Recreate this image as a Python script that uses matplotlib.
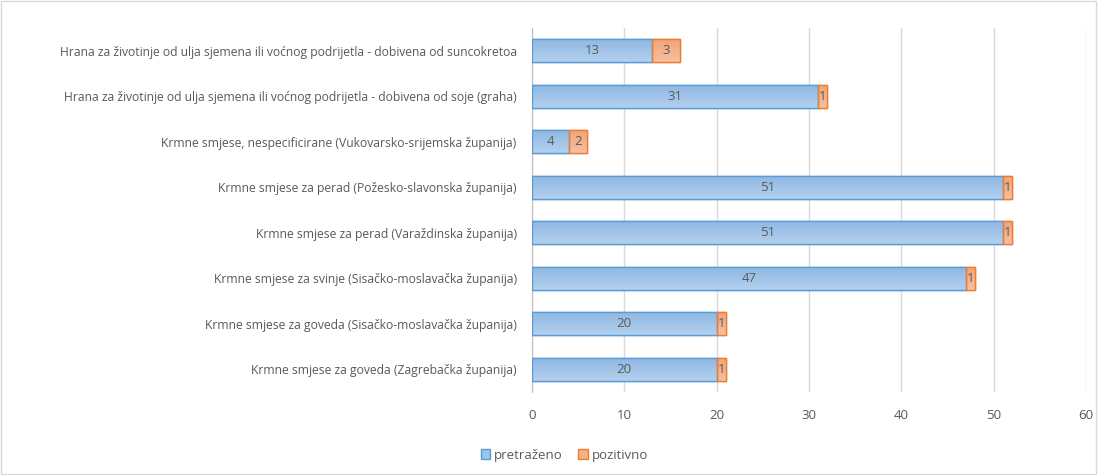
import numpy as np
import matplotlib.pyplot as plt
from matplotlib.patches import Rectangle, Patch

# categories, bottom to top
categories = [
    "Krmne smjese za goveda (Zagrebačka županija)",
    "Krmne smjese za goveda (Sisačko-moslavačka županija)",
    "Krmne smjese za svinje (Sisačko-moslavačka županija)",
    "Krmne smjese za perad (Varaždinska županija)",
    "Krmne smjese za perad (Požesko-slavonska županija)",
    "Krmne smjese, nespecificirane (Vukovarsko-srijemska županija)",
    "Hrana za životinje od ulja sjemena ili voćnog podrijetla - dobivena od soje (graha)",
    "Hrana za životinje od ulja sjemena ili voćnog podrijetla - dobivena od suncokretoa",
]
pretrazeno = [20, 20, 47, 51, 51, 4, 31, 13]
pozitivno = [1, 1, 1, 1, 1, 2, 1, 3]
xticks = [0, 10, 20, 30, 40, 50, 60]

plt.rcParams['font.family'] = ['Open Sans', 'DejaVu Sans']
text_col = '#595959'

fig = plt.figure(figsize=(10.98, 4.75), dpi=100)
ax = fig.add_axes([0.4845, 0.175, 0.989 - 0.4845, 0.766])

y = np.arange(len(categories))
h = 0.5
b1 = ax.barh(y, pretrazeno, height=h, color='#9dc3e6', edgecolor='#5b9bd5', linewidth=1.0, zorder=3)
b2 = ax.barh(y, pozitivno, left=pretrazeno, height=h, color='#f4b183', edgecolor='#ed7d31', linewidth=1.0, zorder=3)

# soft vertical gradient inside each bar
def shade(bars, top, bottom):
    grad = np.linspace(0, 1, 64).reshape(-1, 1)
    c0 = np.array(plt.matplotlib.colors.to_rgb(top))
    c1 = np.array(plt.matplotlib.colors.to_rgb(bottom))
    img = c0 + (c1 - c0) * grad[..., None]
    for p in bars:
        x0, y0 = p.get_x(), p.get_y()
        im = ax.imshow(img, extent=(x0, x0 + p.get_width(), y0 + p.get_height(), y0),
                       aspect='auto', zorder=3.5, interpolation='bilinear')
        im.set_clip_path(p)
        edge = Rectangle((x0, y0), p.get_width(), p.get_height(), fill=False,
                         edgecolor=p.get_edgecolor(), linewidth=1.0, zorder=4)
        ax.add_patch(edge)

shade(b1, '#b4d0ee', '#8fb8e3')
shade(b2, '#f7c0a0', '#f2a478')

for yi, a, b in zip(y, pretrazeno, pozitivno):
    ax.text(a / 2, yi, str(a), ha='center', va='center', fontsize=9.5, color=text_col, zorder=5)
    ax.text(a + b / 2, yi, str(b), ha='center', va='center', fontsize=9.5, color=text_col, zorder=5)

ax.set_xlim(0, 60)
ax.set_ylim(-0.5, len(categories) - 0.5)
ax.set_xticks(xticks)
ax.set_yticks(y)
ax.set_yticklabels(categories, fontsize=8.7, color=text_col)
ax.tick_params(axis='x', colors=text_col, labelsize=9.5, length=0, pad=12)
ax.tick_params(axis='y', length=0, pad=11)
ax.grid(axis='x', color='#d9d9d9', linewidth=1, zorder=0)
for s in ['top', 'right', 'bottom']:
    ax.spines[s].set_visible(False)
ax.spines['left'].set_color('#bfbfbf')
ax.spines['left'].set_zorder(2)

handles = [Patch(facecolor='#9dc3e6', edgecolor='#5b9bd5', label='pretraženo'),
           Patch(facecolor='#f4b183', edgecolor='#ed7d31', label='pozitivno')]
fig.legend(handles=handles, loc='center', bbox_to_anchor=(0.514, 0.042), ncol=2, frameon=False,
           fontsize=9.5, labelcolor=text_col, handlelength=0.7, handleheight=0.7,
           handletextpad=0.3, columnspacing=1.2)

# thin frame around the whole chart
fig.patches.append(Rectangle((0.001, 0.002), 0.997, 0.996, transform=fig.transFigure,
                             fill=False, edgecolor='#d9d9d9', linewidth=1))

fig.savefig('out.png', dpi=100)
